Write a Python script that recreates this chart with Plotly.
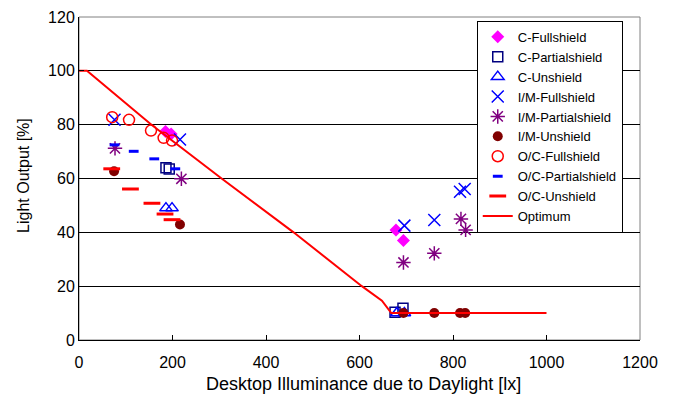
import plotly.graph_objects as go

# ---- data ----
c_full_x = [185, 197, 678, 694]
c_full_y = [77.5, 76.5, 40.9, 37.0]
c_part_x = [186, 193, 676, 693]
c_part_y = [64.0, 63.5, 10.3, 11.8]
c_un_x = [186, 199, 680, 696]
c_un_y = [49.0, 49.0, 10.0, 10.0]
im_full_x = [76, 216, 696, 760, 815, 825]
im_full_y = [81.8, 74.5, 42.5, 44.6, 55.1, 56.1]
im_part_x = [77, 219, 694, 760, 817, 827]
im_part_y = [71.2, 59.9, 28.8, 32.2, 45.0, 40.9]
im_un_x = [75, 216, 694, 760, 815, 826]
im_un_y = [62.7, 42.9, 10.0, 10.0, 10.0, 10.0]
oc_full_x = [71, 107, 154, 181, 199]
oc_full_y = [82.8, 81.8, 77.8, 75.1, 74.1]
oc_part_x = [76, 117, 161, 206]
oc_part_y = [72.5, 70.1, 67.3, 63.6]
oc_un_x = [70, 110, 156, 184, 199]
oc_un_y = [63.6, 56.1, 50.8, 46.8, 44.7]
opt_x = [0, 17, 155, 305, 459, 605, 648, 668, 1000]
opt_y = [100, 100, 80, 60, 40, 20, 14.6, 10, 10]

x_ticks = [0, 200, 400, 600, 800, 1000, 1200]
y_ticks = [0, 20, 40, 60, 80, 100, 120]
x_title = "Desktop Illuminance due to Daylight [lx]"
y_title = "Light Output [%]"

fig = go.Figure()

def add(name, x, y, symbol, color, size, lw=1.5):
    fig.add_trace(go.Scatter(
        x=x, y=y, mode="markers", name=name,
        marker=dict(symbol=symbol, color=color, size=size,
                    line=dict(color=color, width=lw)),
    ))

add("C-Fullshield", c_full_x, c_full_y, "diamond", "#FF00FF", 10, 0)
add("C-Partialshield", c_part_x, c_part_y, "square-open", "#000080", 10)
add("C-Unshield", c_un_x, c_un_y, "triangle-up-open", "#0000FF", 11)
add("I/M-Fullshield", im_full_x, im_full_y, "x-thin-open", "#0000FF", 12)
add("I/M-Partialshield", im_part_x, im_part_y, "asterisk-open", "#800080", 12)
add("I/M-Unshield", im_un_x, im_un_y, "circle", "#800000", 10, 0)
add("O/C-Fullshield", oc_full_x, oc_full_y, "circle-open", "#FF0000", 11)
add("O/C-Partialshield", oc_part_x, oc_part_y, "line-ew-open", "#0000FF", 7, 3)
add("O/C-Unshield", oc_un_x, oc_un_y, "line-ew-open", "#FF0000", 12, 3)
fig.add_trace(go.Scatter(x=opt_x, y=opt_y, mode="lines", name="Optimum",
                         line=dict(color="#FF0000", width=2)))

font = "Liberation Sans, Arial, sans-serif"
fig.update_layout(
    width=675, height=403,
    margin=dict(l=71, r=43, t=9, b=71),
    paper_bgcolor="white", plot_bgcolor="white",
    font=dict(family=font, size=16, color="black"),
    xaxis=dict(range=[0, 1200], tickvals=x_ticks, ticks="inside", ticklen=5,
               tickcolor="black", showline=True, linecolor="black", linewidth=1,
               showgrid=False, zeroline=False, automargin=False,
               tickfont=dict(size=16), ticklabelstandoff=8),
    yaxis=dict(range=[0, 120], tickvals=y_ticks, ticks="inside", ticklen=5,
               tickcolor="black", showline=True, linecolor="black", linewidth=1,
               showgrid=True, gridcolor="black", gridwidth=1, zeroline=False,
               automargin=False, tickfont=dict(size=16)),
    legend=dict(x=0.709, y=0.988, xanchor="left", yanchor="top",
                bordercolor="black", borderwidth=1, bgcolor="white",
                font=dict(size=13), tracegroupgap=0),
    shapes=[dict(type="rect", xref="paper", yref="paper", x0=0, x1=1, y0=0, y1=1,
                 line=dict(color="#808080", width=1), layer="below")],
    annotations=[
        dict(text=x_title, xref="paper", yref="paper", x=0.508, y=-0.136,
             xanchor="center", yanchor="middle", showarrow=False,
             font=dict(size=18)),
        dict(text=y_title, xref="paper", yref="paper", x=-0.098, y=0.508,
             xanchor="center", yanchor="middle", showarrow=False, textangle=-90,
             font=dict(size=16)),
    ],
)

fig.write_html("out.html")
